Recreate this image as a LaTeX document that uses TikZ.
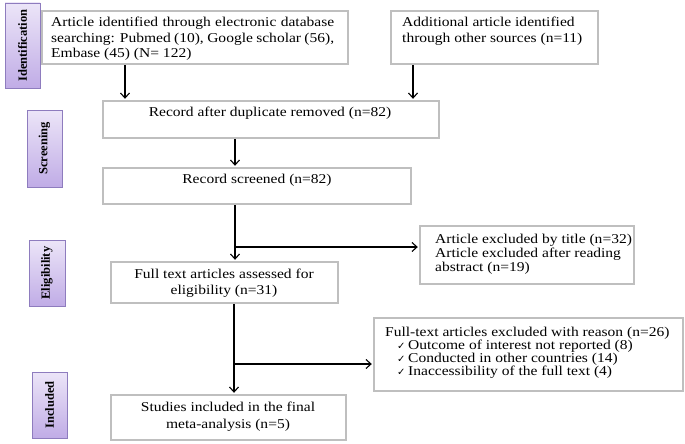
\documentclass[tikz,border=0pt]{standalone}
\usepackage{fontspec}
\setmainfont{Liberation Serif}[FakeStretch=1.15]
\newfontfamily\stagefont{Liberation Serif}
\newfontfamily\tickfont{DejaVu Sans}
\usetikzlibrary{arrows.meta}
\definecolor{boxgray}{RGB}{191,191,191}
\definecolor{stageedge}{RGB}{142,124,190}
\definecolor{stagedark}{RGB}{192,172,230}
\definecolor{stagelight}{RGB}{236,229,248}
\tikzset{
  box/.style={draw=boxgray, line width=2.4pt, anchor=north west, inner sep=0pt},
  stage/.style={draw=stageedge, line width=0.8pt, rotate=90, inner sep=0pt,
    top color=stagelight, bottom color=stagedark,
    font=\stagefont\bfseries\fontsize{12.5}{14}\selectfont},
  txt/.style={inner sep=0pt, font=\fontsize{13.5}{16}\selectfont},
  arr/.style={line width=1.1pt, shorten >=1.2pt, -{Straight Barb[length=5pt,width=9pt]}}
}
\newcommand{\tick}{\makebox[11pt][l]{\tickfont\fontsize{10}{10}\selectfont ✓}}
\begin{document}
\begin{tikzpicture}[x=1pt,y=1pt,yscale=-1,xscale=1]
\useasboundingbox (0,0) rectangle (685,444);
% stage labels
\node [stage, minimum width=85, minimum height=35] (lid) at (22.5,45.5) {Identification};
\node [stage, minimum width=77, minimum height=35] (lscr) at (44.5,148.5) {Screening};
\node [stage, minimum width=66, minimum height=36] (lelig) at (47,273) {Eligibility};
\node [stage, minimum width=66, minimum height=35] (linc) at (49.5,405) {Included};
% boxes
\node [box, minimum width=306, minimum height=53] (ident) at (41,10) {};
\node [box, minimum width=207, minimum height=53] (other) at (390,10) {};
\node [box, minimum width=336, minimum height=37] (dup) at (102,100) {};
\node [box, minimum width=308, minimum height=36] (scr) at (102,167) {};
\node [box, minimum width=227, minimum height=41] (full) at (110,261) {};
\node [box, minimum width=214, minimum height=58] (excl) at (419,225) {};
\node [box, minimum width=309, minimum height=73] (reason) at (373,317) {};
\node [box, minimum width=235, minimum height=45] (incl) at (110,394) {};
% box texts (anchored at the baseline of the last line)
\node [txt, anchor=base west, font=\fontsize{13.5}{15.5}\selectfont, align=left] (ident-t) at (51,58) {%
  \makebox[283pt][s]{Article identified through electronic database}\\
  \makebox[283pt][s]{searching: Pubmed (10), Google scholar (56),}\\
  Embase (45) (N= 122)};
\node [txt, anchor=base west, align=left, font=\fontsize{13.5}{15.5}\selectfont] (other-t) at (402,42.5) {Additional article identified\\through other sources (n=11)};
\node [txt, anchor=base] (dup-t) at (270,116) {Record after duplicate removed (n=82)};
\node [txt, anchor=base] (scr-t) at (257,183) {Record screened (n=82)};
\node [txt, anchor=base, align=center] (full-t) at (224,294) {Full text articles assessed for\\eligibility (n=31)};
\node [txt, anchor=base west, align=left, font=\fontsize{13.5}{14}\selectfont] (excl-t) at (435,271) {Article excluded by title (n=32)\\Article excluded after reading\\abstract (n=19)};
\node [txt, anchor=base west, align=left, font=\fontsize{13.5}{13}\selectfont] (reason-t) at (385,375) {Full-text articles excluded with reason (n=26)\\
  \hspace{12pt}\tick Outcome of interest not reported (8)\\
  \hspace{12pt}\tick Conducted in other countries (14)\\
  \hspace{12pt}\tick Inaccessibility of the full text (4)};
\node [txt, anchor=base, align=center, font=\fontsize{13.5}{17}\selectfont] (incl-t) at (228,428) {Studies included in the final\\meta-analysis (n=5)};
% connectors
\coordinate (c1) at (125,0);
\coordinate (c2) at (413,0);
\coordinate (c3) at (235,0);
\coordinate (j1) at (235,247);
\coordinate (j2) at (234,364);
\draw [arr] (c1 |- ident.south) -- (c1 |- dup.north);
\draw [arr] (c2 |- other.south) -- (c2 |- dup.north);
\draw [arr] (c3 |- dup.south) -- (c3 |- scr.north);
\draw [arr] (c3 |- scr.south) -- (c3 |- full.north);
\draw [arr] (j1) -- (j1 -| excl.west);
\draw [arr] (j2 |- full.south) -- (j2 |- incl.north);
\draw [arr] (j2) -- (j2 -| reason.west);
\end{tikzpicture}
\end{document}
